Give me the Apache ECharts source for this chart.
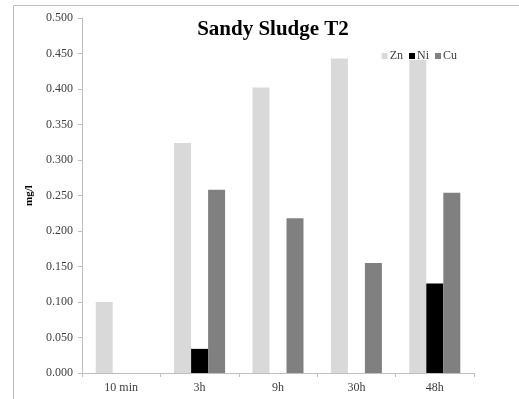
<!DOCTYPE html>
<html>
<head>
<meta charset="utf-8">
<script src="https://cdn.jsdelivr.net/npm/echarts@6/dist/echarts.min.js"></script>
<style>
  html, body { margin: 0; padding: 0; background: #fff; }
  #chart { width: 519px; height: 399px; }
</style>
</head>
<body>
<div id="chart"></div>
<script>
const categories = ["10 min", "3h", "9h", "30h", "48h"];
const zn = [0.100, 0.324, 0.402, 0.443, 0.441];
const ni = [0, 0.034, 0, 0, 0.126];
const cu = [0, 0.258, 0.218, 0.155, 0.254];

const font = "'Liberation Serif', 'Times New Roman', serif";

const myChart = echarts.init(document.getElementById("chart"), null, { renderer: "canvas" });

const bar = (name, data, color) => ({
  name: name,
  type: "bar",
  data: data,
  barWidth: 17,
  barGap: "0%",
  itemStyle: { color: color },
  animation: false,
});

myChart.setOption({
  backgroundColor: "#fff",
  animation: false,
  title: {
    text: "Sandy Sludge T2",
    left: 268,
    textAlign: "center",
    top: 14,
    textStyle: { fontFamily: font, fontSize: 21, fontWeight: "bold", color: "#000" },
  },
  legend: {
    right: 57,
    top: 45,
    itemWidth: 6,
    itemHeight: 6,
    itemGap: 6,
    icon: "rect",
    textStyle: { fontFamily: font, fontSize: 12, color: "#404040", padding: [0, 0, 0, -3] },
    data: ["Zn", "Ni", "Cu"],
  },
  grid: { left: 82, right: 45, top: 18, bottom: 26, containLabel: false },
  xAxis: {
    type: "category",
    data: categories,
    axisLine: { lineStyle: { color: "#bfbfbf" } },
    axisTick: { show: true, length: 4, lineStyle: { color: "#bfbfbf" } },
    axisLabel: { fontFamily: font, fontSize: 12, color: "#404040", margin: 9 },
  },
  yAxis: {
    type: "value",
    min: 0,
    max: 0.5,
    interval: 0.05,
    name: "mg/l",
    nameLocation: "middle",
    nameGap: 40,
    nameRotate: 90,
    nameTextStyle: { fontFamily: font, fontSize: 11, fontWeight: "bold", color: "#000" },
    axisLine: { show: true, lineStyle: { color: "#bfbfbf" } },
    axisTick: { show: true, length: 4, lineStyle: { color: "#bfbfbf" } },
    splitLine: { show: false },
    axisLabel: {
      fontFamily: font,
      fontSize: 12,
      color: "#404040",
      margin: 9,
      formatter: (v) => v.toFixed(3),
    },
  },
  graphic: [
    {
      type: "rect",
      shape: { x: 13.5, y: 5.5, width: 700, height: 700 },
      style: { fill: "none", stroke: "#bfbfbf", lineWidth: 1 },
      silent: true,
      z: -1,
    },
  ],
  series: [bar("Zn", zn, "#d9d9d9"), bar("Ni", ni, "#000000"), bar("Cu", cu, "#808080")],
});
</script>
</body>
</html>
